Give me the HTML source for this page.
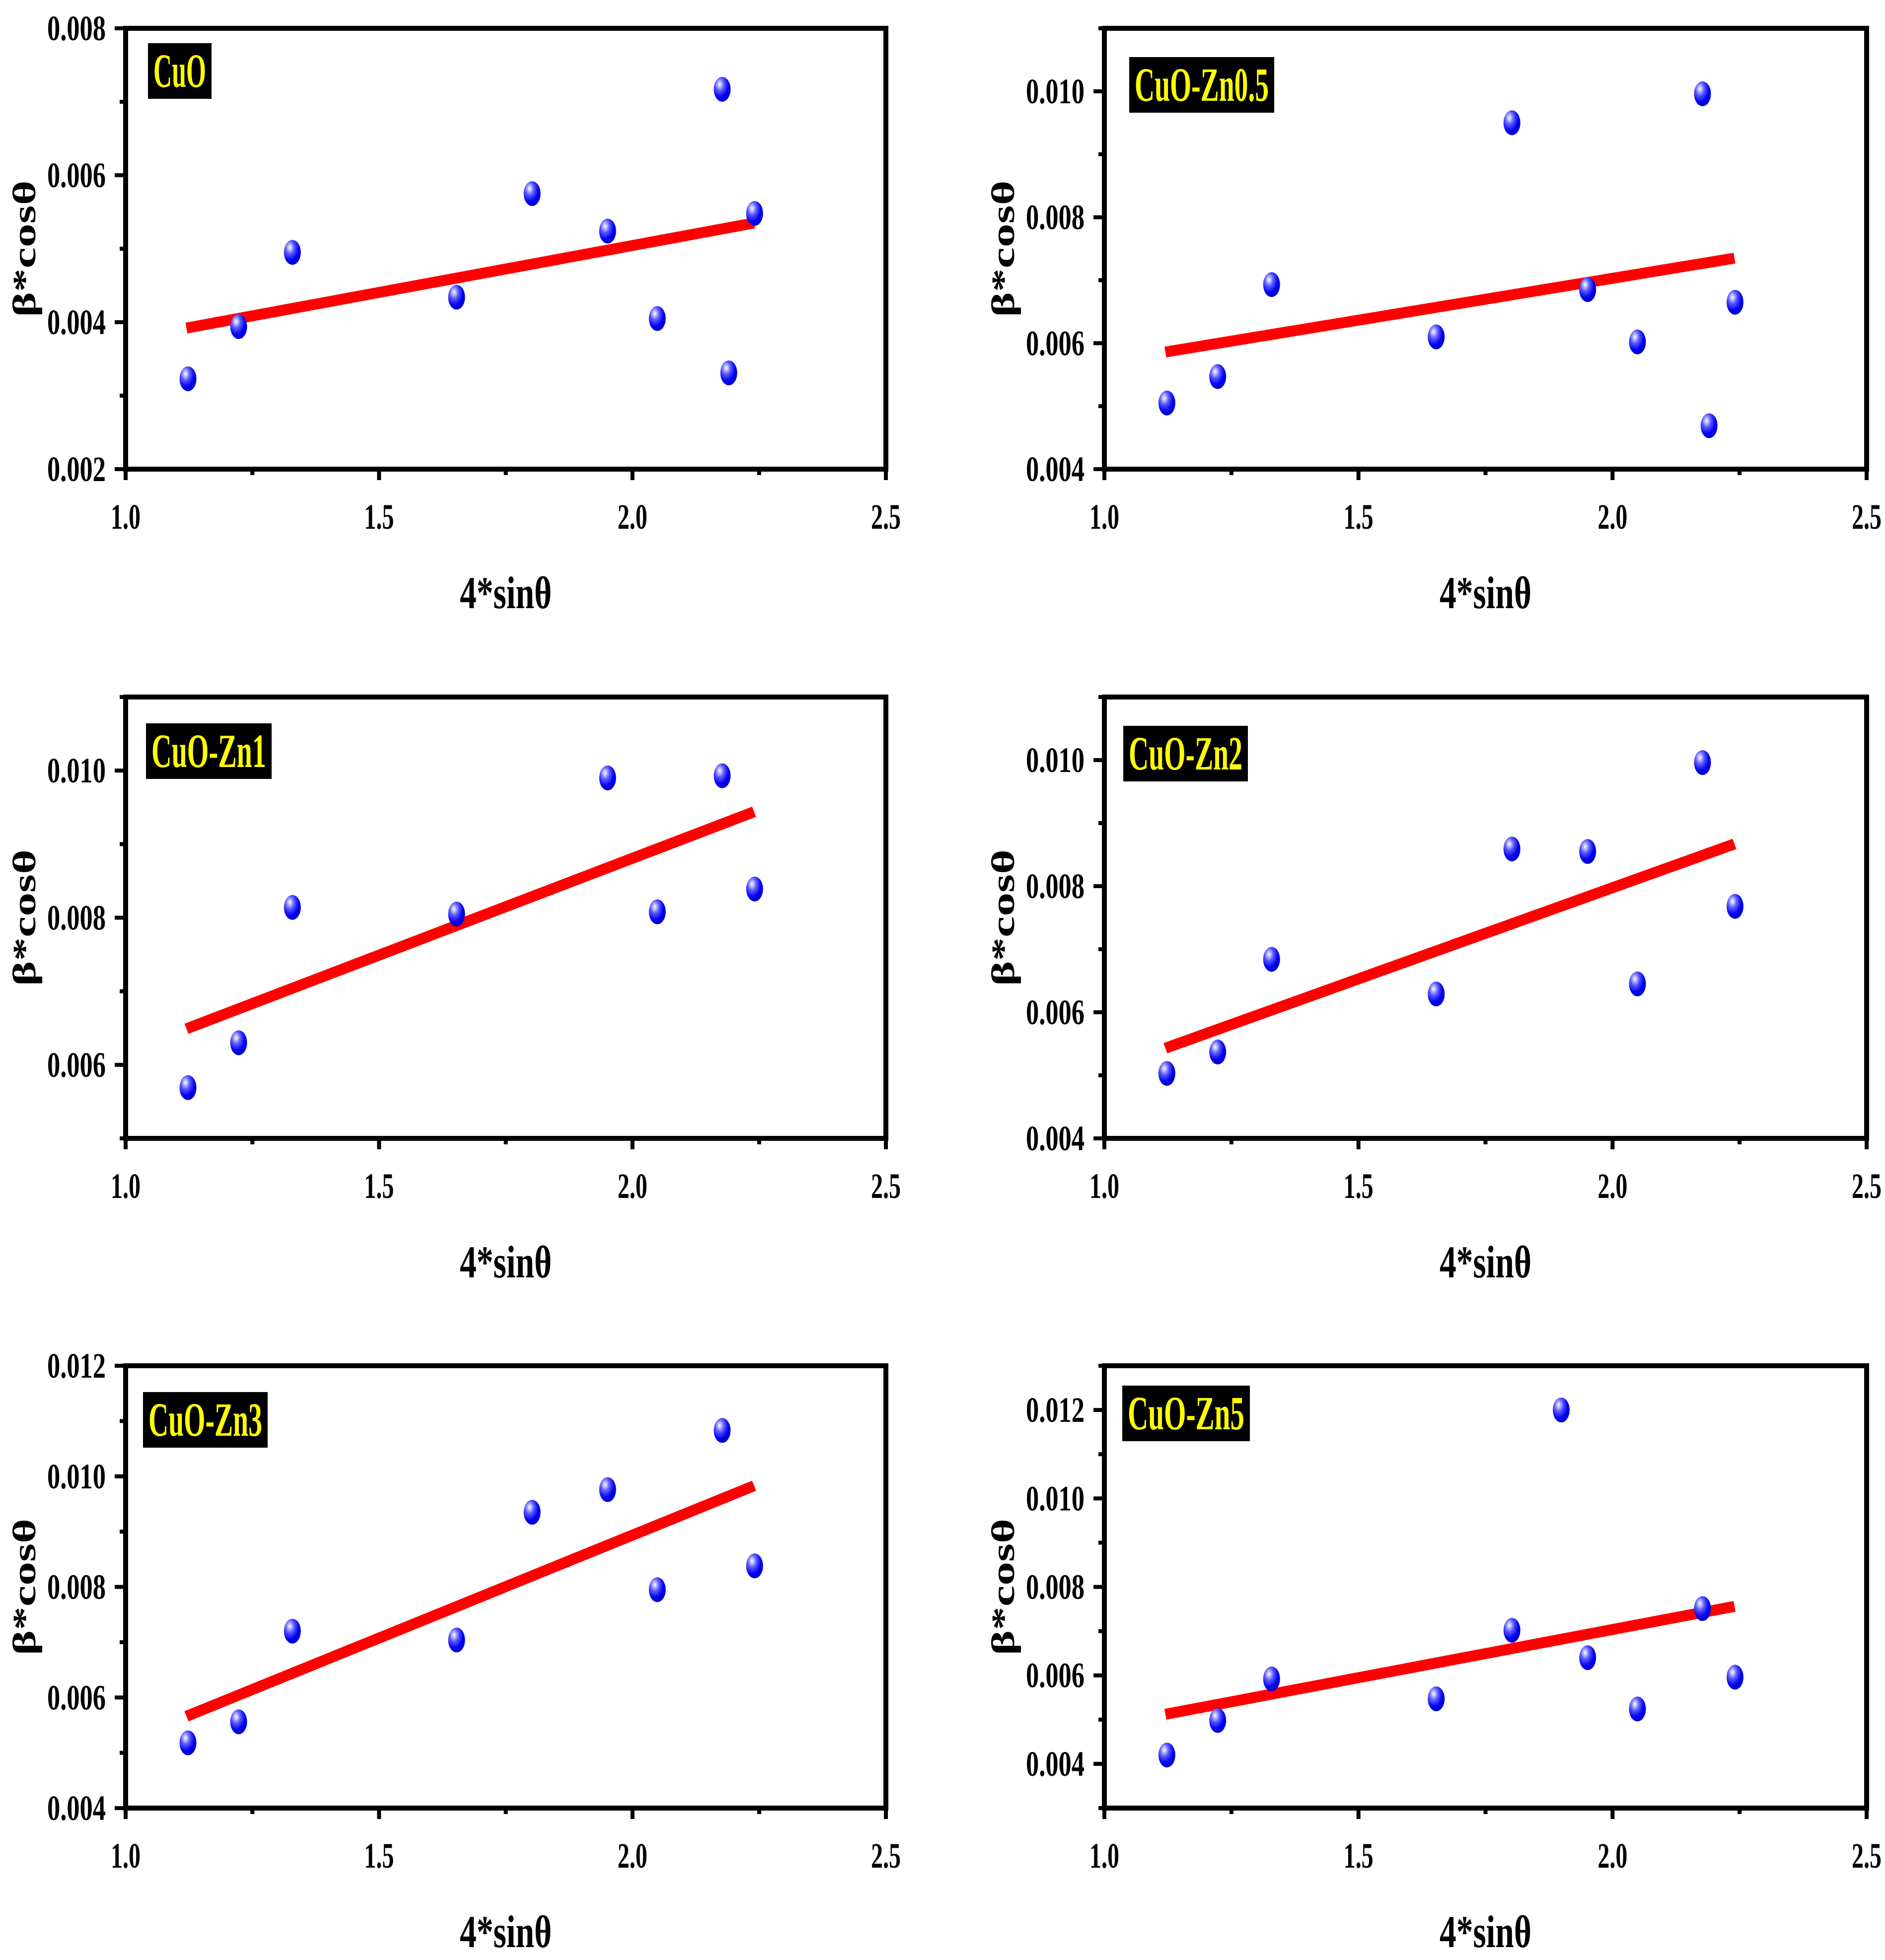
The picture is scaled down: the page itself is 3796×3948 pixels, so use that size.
<!DOCTYPE html>
<html><head><meta charset="utf-8">
<style>
html,body{margin:0;padding:0;background:#fff;}
svg{display:block;}
text{font-family:"Liberation Serif",serif;font-weight:bold;}
</style></head>
<body>
<svg id="fig" width="3796" height="3948" viewBox="0 0 3796 3948" xmlns="http://www.w3.org/2000/svg">
<defs>
<radialGradient id="ball" cx="0.35" cy="0.3" r="0.75">
<stop offset="0" stop-color="#ffffff"/>
<stop offset="0.35" stop-color="#5a5aff"/>
<stop offset="0.7" stop-color="#0000f0"/>
<stop offset="1" stop-color="#0000c8"/>
</radialGradient>
</defs>
</svg>
<script>
const panelNames = ["CuO","CuO-Zn0.5","CuO-Zn1","CuO-Zn2","CuO-Zn3","CuO-Zn5"];
const yMins = [0.002,0.004,0.005,0.004,0.004,0.003];
const yMaxs = [0.008,0.011,0.011,0.011,0.012,0.013];
const yTickVals = [[0.002,0.004,0.006,0.008],[0.004,0.006,0.008,0.010],[0.006,0.008,0.010],[0.004,0.006,0.008,0.010],[0.004,0.006,0.008,0.010,0.012],[0.004,0.006,0.008,0.010,0.012]];
const xTickVals = [1.0,1.5,2.0,2.5];
const xs0 = [1.123,1.223,1.329,1.653,1.802,1.951,2.049,2.177,2.190,2.241];
const ys0 = [0.00323,0.00394,0.00495,0.00434,0.00575,0.00524,0.00405,0.00717,0.00331,0.00548];
const xs1 = [1.123,1.223,1.329,1.653,1.802,1.951,2.049,2.177,2.190,2.241];
const ys1 = [0.00505,0.00547,0.00693,0.00610,0.00950,0.00685,0.00602,0.00996,0.00469,0.00665];
const xs2 = [1.123,1.223,1.329,1.653,1.951,2.049,2.177,2.241];
const ys2 = [0.00569,0.00630,0.00814,0.00805,0.00990,0.00808,0.00993,0.00839];
const xs3 = [1.123,1.223,1.329,1.653,1.802,1.951,2.049,2.177,2.241];
const ys3 = [0.00503,0.00537,0.00684,0.00629,0.00859,0.00855,0.00645,0.00996,0.00768];
const xs4 = [1.123,1.223,1.329,1.653,1.802,1.951,2.049,2.177,2.241];
const ys4 = [0.00518,0.00556,0.00720,0.00704,0.00935,0.00976,0.00795,0.01083,0.00838];
const xs5 = [1.123,1.223,1.329,1.653,1.802,1.899,1.951,2.049,2.177,2.241];
const ys5 = [0.00420,0.00498,0.00592,0.00547,0.00702,0.01200,0.00640,0.00524,0.00751,0.00596];
const fitX = [1.12,2.24];
const fitY0 = [0.00392,0.00535];
const fitY1 = [0.00586,0.00735];
const fitY2 = [0.00649,0.00944];
const fitY3 = [0.00543,0.00867];
const fitY4 = [0.00566,0.00983];
const fitY5 = [0.00512,0.00756];
const allXs=[xs0,xs1,xs2,xs3,xs4,xs5], allYs=[ys0,ys1,ys2,ys3,ys4,ys5], allFit=[fitY0,fitY1,fitY2,fitY3,fitY4,fitY5];

const NS="http://www.w3.org/2000/svg";
const svg=document.getElementById('fig');
function mk(tag,attrs,parent){const e=document.createElementNS(NS,tag);for(const k in attrs)e.setAttribute(k,attrs[k]);(parent||svg).appendChild(e);return e;}
const lefts=[253,2224], rights=[1784,3759], tops=[57,1404,2751], bots=[945,2293,3642];
const boxW=[128,292,253,251,251,257], boxDX=[45,50,41,38,35,36], boxDY=[30,58,53,58,53,40];

for(let p=0;p<6;p++){
  const col=p%2,row=Math.floor(p/2);
  const L=lefts[col],R=rights[col],T=tops[row],B=bots[row];
  const g=mk('g',{});
  
  
  const xS=v=>L+(v-1.0)/(1.5)*(R-L);
  const yS=v=>B-(v-yMins[p])/(yMaxs[p]-yMins[p])*(B-T);
  for(let v=1.0;v<=2.5001;v+=0.25){
    const major=Math.abs((v*2)-Math.round(v*2))<1e-6;
    const t=mk('line',{x1:xS(v),x2:xS(v),y1:B,y2:B+(major?22:12),stroke:'#000','stroke-width':8},g);
    
    
  }
  const yStep=0.001;
  for(let v=Math.ceil(yMins[p]/yStep-1e-6)*yStep; v<=yMaxs[p]+1e-9; v+=yStep){
    const major=Math.abs(v/0.002-Math.round(v/0.002))<1e-6;
    const t=mk('line',{x1:L,x2:L-(major?22:12),y1:yS(v),y2:yS(v),stroke:'#000','stroke-width':8},g);
    
    
  }
  const frame=mk('rect',{x:L,y:T,width:R-L,height:B-T,fill:'none',stroke:'#000','stroke-width':10},g);
  
  
  xTickVals.forEach(v=>{
    const t=mk('text',{x:xS(v),y:B+120,'text-anchor':'middle','font-size':72,textLength:60,lengthAdjust:'spacingAndGlyphs'},g);
    t.textContent=v.toFixed(1);
    
    
  });
  yTickVals[p].forEach(v=>{
    const t=mk('text',{x:L-40,y:yS(v)+24,'text-anchor':'end','font-size':72,textLength:118,lengthAdjust:'spacingAndGlyphs'},g);
    t.textContent=v.toFixed(3);
    
    
  });
  const xt=mk('text',{x:(L+R)/2,y:B+280,'text-anchor':'middle','font-size':92,textLength:185,lengthAdjust:'spacingAndGlyphs'},g);
  xt.textContent='4*sinθ';
  
  
  const yc=(T+B)/2, yx=L-204+22;
  const yt=mk('text',{x:yx,y:yc,'text-anchor':'middle','font-size':66,transform:`rotate(-90 ${yx} ${yc})`,textLength:275,lengthAdjust:'spacingAndGlyphs'},g);
  yt.textContent='β*cosθ';
  
  
  const fl=mk('line',{x1:xS(fitX[0]),y1:yS(allFit[p][0]),x2:xS(fitX[1]),y2:yS(allFit[p][1]),stroke:'#ff0000','stroke-width':22},g);
  
  
  allXs[p].forEach((xv,i)=>{
    const c=mk('ellipse',{cx:xS(xv),cy:yS(allYs[p][i]),rx:17,ry:25,fill:'url(#ball)'},g);
    
    
  });
  const bw=boxW[p], bx=L+boxDX[p], by=T+boxDY[p];
  const box=mk('rect',{x:bx,y:by,width:bw,height:112,fill:'#000'},g);
  
  
  const lt=mk('text',{x:bx+bw/2,y:by+88,'text-anchor':'middle','font-size':96,fill:'#ffff00',textLength:bw-22,lengthAdjust:'spacingAndGlyphs'},g);
  lt.textContent=panelNames[p];
  
  
}
</script>
</body></html>
